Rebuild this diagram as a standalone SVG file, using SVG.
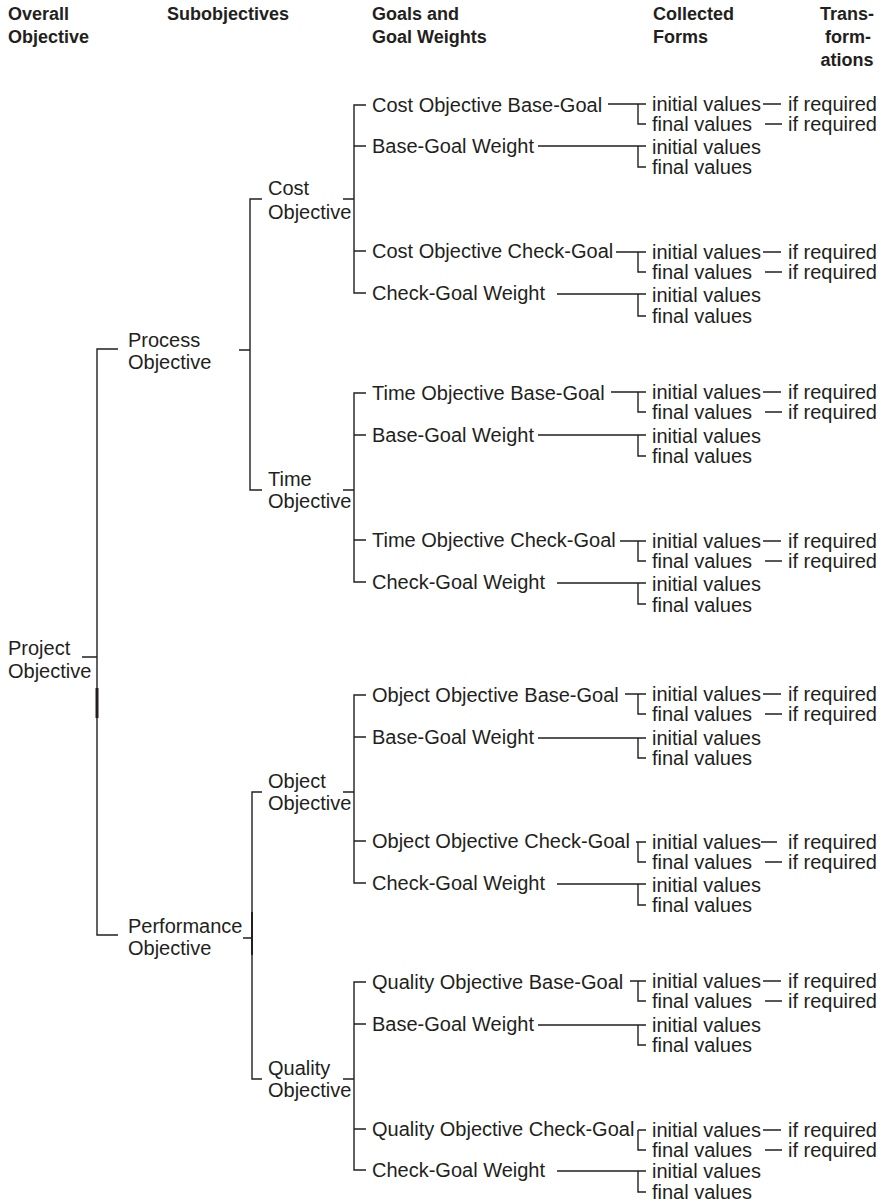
<svg xmlns="http://www.w3.org/2000/svg" width="886" height="1203" viewBox="0 0 886 1203">
<style>
text{font-family:"Liberation Sans",Arial,Helvetica,sans-serif;font-size:20px;fill:#231f20}
text.h{font-weight:bold;font-size:18px}
.c path{fill:none;stroke:#231f20;stroke-width:1.4}
</style>
<rect width="886" height="1203" fill="#ffffff"/>
<g id="headers">
<g id="h-overall"><text class="h" x="8" y="20">Overall</text><text class="h" x="8" y="43">Objective</text></g>
<g id="h-sub"><text class="h" x="167" y="20">Subobjectives</text></g>
<g id="h-goals"><text class="h" x="372" y="20">Goals and</text><text class="h" x="372" y="43">Goal Weights</text></g>
<g id="h-forms"><text class="h" x="653" y="20">Collected</text><text class="h" x="653" y="43">Forms</text></g>
<g id="h-trans"><text class="h" x="847" y="20" text-anchor="middle">Trans-</text><text class="h" x="848" y="43" text-anchor="middle">form-</text><text class="h" x="847" y="66" text-anchor="middle">ations</text></g>
</g>
<g class="c" id="connectors">
<path d="M82 657H97 M118 349H97V935H118"/>
<path d="M97 688V718" style="stroke-width:3"/>
<path d="M239 350H250 M262 199H250V490H262"/>
<path d="M243 938H252 M262 792H252V1079H262"/>
<path d="M252 912V955" style="stroke-width:2"/>
<path d="M343 199H354 M366 105H354V293H366 M354 146H366 M354 251H366"/>
<path d="M343 490H354 M366 393H354V582H366 M354 435H366 M354 540H366"/>
<path d="M343 792H354 M366 695H354V883H366 M354 737H366 M354 841H366"/>
<path d="M343 1079H354 M366 982H354V1170H366 M354 1024H366 M354 1129H366"/>
<path d="M608 104H646 M638 104V124H646 M538 146H646 M638 146V167H646 M616 252H646 M638 252V272H646 M557 294H646 M638 294V316H646"/>
<path d="M611 392H646 M638 392V412H646 M538 435H646 M638 435V456H646 M620 541H646 M638 541V561H646 M557 583H646 M638 583V604H646"/>
<path d="M625 694H646 M638 694V714H646 M538 738H646 M638 738V758H646 M636 842H646 M638 842V862H646 M557 884H646 M638 884V905H646"/>
<path d="M630 981H646 M638 981V1001H646 M538 1025H646 M638 1025V1045H646 M638 1130H646 M638 1130V1150H646 M557 1171H646 M638 1171V1192H646"/>
<path d="M763 104H781 M765 124H782 M763 252H781 M765 272H782"/>
<path d="M763 392H781 M765 412H782 M763 541H781 M765 561H782"/>
<path d="M763 694H781 M765 714H782 M761 842H777 M765 862H782"/>
<path d="M763 981H781 M765 1001H782 M763 1130H781 M765 1150H782"/>
</g>
<g id="project"><text x="8" y="655">Project</text><text x="8" y="678">Objective</text></g>
<g id="process"><text x="128" y="347">Process</text><text x="128" y="369">Objective</text></g>
<g id="performance"><text x="128" y="933">Performance</text><text x="128" y="955">Objective</text></g>
<g id="cost"><text x="268" y="195">Cost</text><text x="268" y="219">Objective</text></g>
<g id="time"><text x="268" y="486">Time</text><text x="268" y="508">Objective</text></g>
<g id="object"><text x="268" y="788">Object</text><text x="268" y="810">Objective</text></g>
<g id="quality"><text x="268" y="1075">Quality</text><text x="268" y="1097">Objective</text></g>
<g id="cost-goals">
<g id="cost-bg"><text x="372" y="112">Cost Objective Base-Goal</text></g>
<g id="cost-bgw"><text x="372" y="153">Base-Goal Weight</text></g>
<g id="cost-cg"><text x="372" y="258">Cost Objective Check-Goal</text></g>
<g id="cost-cgw"><text x="372" y="300">Check-Goal Weight</text></g>
</g>
<g id="time-goals">
<g id="time-bg"><text x="372" y="400">Time Objective Base-Goal</text></g>
<g id="time-bgw"><text x="372" y="442">Base-Goal Weight</text></g>
<g id="time-cg"><text x="372" y="547">Time Objective Check-Goal</text></g>
<g id="time-cgw"><text x="372" y="589">Check-Goal Weight</text></g>
</g>
<g id="object-goals">
<g id="object-bg"><text x="372" y="702">Object Objective Base-Goal</text></g>
<g id="object-bgw"><text x="372" y="744">Base-Goal Weight</text></g>
<g id="object-cg"><text x="372" y="848">Object Objective Check-Goal</text></g>
<g id="object-cgw"><text x="372" y="890">Check-Goal Weight</text></g>
</g>
<g id="quality-goals">
<g id="quality-bg"><text x="372" y="989">Quality Objective Base-Goal</text></g>
<g id="quality-bgw"><text x="372" y="1031">Base-Goal Weight</text></g>
<g id="quality-cg"><text x="372" y="1136">Quality Objective Check-Goal</text></g>
<g id="quality-cgw"><text x="372" y="1177">Check-Goal Weight</text></g>
</g>
<g id="forms">
<g id="f1"><text x="652" y="111">initial values</text><text x="652" y="131">final values</text></g>
<g id="f2"><text x="652" y="154">initial values</text><text x="652" y="174">final values</text></g>
<g id="f3"><text x="652" y="259">initial values</text><text x="652" y="279">final values</text></g>
<g id="f4"><text x="652" y="302">initial values</text><text x="652" y="323">final values</text></g>
<g id="f5"><text x="652" y="399">initial values</text><text x="652" y="419">final values</text></g>
<g id="f6"><text x="652" y="443">initial values</text><text x="652" y="463">final values</text></g>
<g id="f7"><text x="652" y="548">initial values</text><text x="652" y="568">final values</text></g>
<g id="f8"><text x="652" y="591">initial values</text><text x="652" y="612">final values</text></g>
<g id="f9"><text x="652" y="701">initial values</text><text x="652" y="721">final values</text></g>
<g id="f10"><text x="652" y="745">initial values</text><text x="652" y="765">final values</text></g>
<g id="f11"><text x="652" y="849">initial values</text><text x="652" y="869">final values</text></g>
<g id="f12"><text x="652" y="892">initial values</text><text x="652" y="912">final values</text></g>
<g id="f13"><text x="652" y="988">initial values</text><text x="652" y="1008">final values</text></g>
<g id="f14"><text x="652" y="1032">initial values</text><text x="652" y="1052">final values</text></g>
<g id="f15"><text x="652" y="1137">initial values</text><text x="652" y="1157">final values</text></g>
<g id="f16"><text x="652" y="1178">initial values</text><text x="652" y="1199">final values</text></g>
</g>
<g id="transformations">
<g id="t1"><text x="788" y="111">if required</text><text x="788" y="131">if required</text></g>
<g id="t2"><text x="788" y="259">if required</text><text x="788" y="279">if required</text></g>
<g id="t3"><text x="788" y="399">if required</text><text x="788" y="419">if required</text></g>
<g id="t4"><text x="788" y="548">if required</text><text x="788" y="568">if required</text></g>
<g id="t5"><text x="788" y="701">if required</text><text x="788" y="721">if required</text></g>
<g id="t6"><text x="788" y="849">if required</text><text x="788" y="869">if required</text></g>
<g id="t7"><text x="788" y="988">if required</text><text x="788" y="1008">if required</text></g>
<g id="t8"><text x="788" y="1137">if required</text><text x="788" y="1157">if required</text></g>
</g>
</svg>
